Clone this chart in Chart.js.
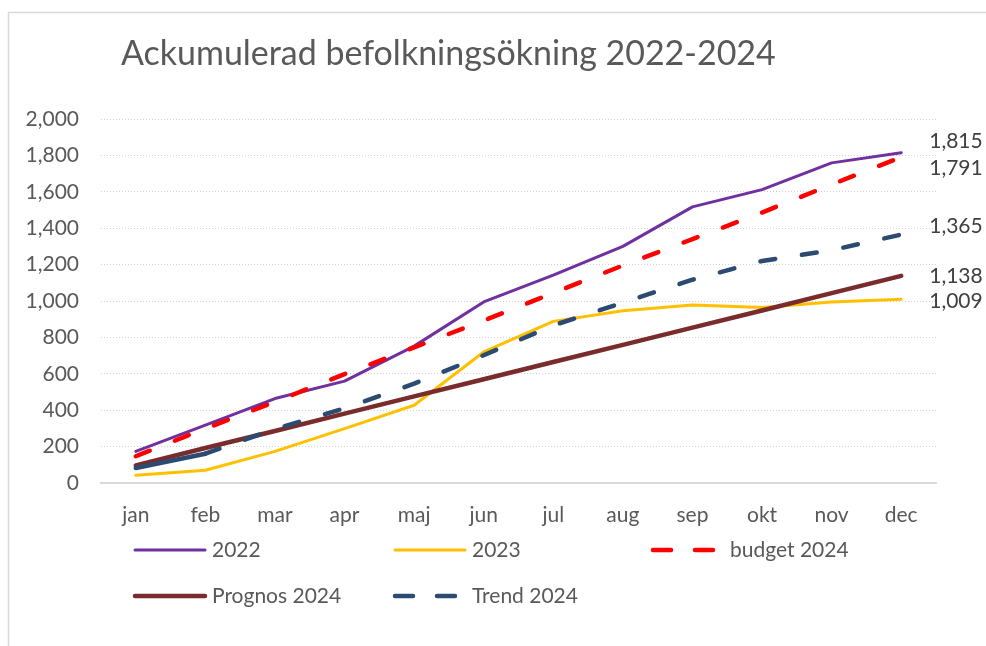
<!DOCTYPE html>
<html><head><meta charset="utf-8">
<script src="https://cdn.jsdelivr.net/npm/chart.js@4"></script>
<style>html,body{margin:0;padding:0;background:#fff}#wrap{position:absolute;left:0;top:0;width:986px;height:646px}</style>
</head><body><div id="wrap"><canvas id="c" width="986" height="646"></canvas></div>
<script>
// ---- data ----
const months = ['jan','feb','mar','apr','maj','jun','jul','aug','sep','okt','nov','dec'];
const values2022 = [174, 318, 464, 560, 752, 995, 1142, 1300, 1517, 1612, 1759, 1815];
const values2023 = [42, 70, 174, 299, 427, 720, 888, 947, 978, 964, 995, 1009];
const budget2024 = [147, 299, 446, 598, 745, 893, 1044, 1195, 1340, 1486, 1640, 1791];
const prognos2024 = [97, 192, 286, 381, 476, 570, 665, 759, 854, 948, 1043, 1138];
const trend2024 = [82, 161, 297, 410, 546, 702, 866, 991, 1117, 1220, 1279, 1365];
const seriesNames = ['2022', '2023', 'budget 2024', 'Prognos 2024', 'Trend 2024'];
const titleText = 'Ackumulerad befolkningsökning 2022-2024';
const yMin = 0, yMax = 2000, yStep = 200;

// ---- styles ----
const FONT = 'Lato, "Open Sans", sans-serif';
const FSIZE = 21;
const AXIS_COLOR = '#595959';
const colors = ['#7030A0', '#FFC000', '#FF0000', '#7A2B2B', '#2C4B72'];
const widths = [3, 3, 4.5, 4.5, 4.5];
const dashes = [[], [], [15, 27], [], [15, 27]];
const endLabelNudge = [-11, 2, 11, 0, -8]; // vertical nudges of end labels (px)

const seriesValues = [values2022, values2023, budget2024, prognos2024, trend2024];

const datasets = seriesValues.map((vals, i) => {
  const ds = {
    label: seriesNames[i],
    data: vals,
    borderColor: colors[i],
    backgroundColor: colors[i],
    borderWidth: widths[i],
    borderDash: dashes[i],
    borderCapStyle: 'round',
    borderJoinStyle: 'round',
    pointRadius: 0,
    tension: 0,
    fill: false,
    order: seriesValues.length - i
  };
  if (i === 4) {
    // first stretch of the trend line is drawn as one continuous dash in the reference
    ds.segment = { borderDash: ctx => ctx.p0DataIndex === 0 ? [] : undefined };
  }
  return ds;
});

const framePlugin = {
  id: 'frame',
  beforeDraw(chart) {
    const ctx = chart.ctx;
    ctx.save();
    ctx.fillStyle = '#fff';
    ctx.fillRect(0, 0, chart.width, chart.height);
    ctx.strokeStyle = '#d9d9d9';
    ctx.lineWidth = 1.5;
    ctx.beginPath();
    ctx.moveTo(8.5, chart.height);
    ctx.lineTo(8.5, 12.5);
    ctx.lineTo(chart.width, 12.5);
    ctx.stroke();
    // title
    ctx.fillStyle = AXIS_COLOR;
    let size = 30;
    ctx.font = size + 'px ' + FONT;
    const w = ctx.measureText(titleText).width;
    size = size * 655 / w;
    ctx.font = size + 'px ' + FONT;
    ctx.textBaseline = 'alphabetic';
    ctx.textAlign = 'left';
    ctx.fillText(titleText, 121, 65);
    ctx.restore();
  }
};

const endLabelPlugin = {
  id: 'endLabels',
  afterDatasetsDraw(chart) {
    const ctx = chart.ctx;
    ctx.save();
    ctx.font = FSIZE + 'px ' + FONT;
    ctx.fillStyle = '#404040';
    ctx.textBaseline = 'middle';
    ctx.textAlign = 'left';
    chart.data.datasets.forEach((ds, i) => {
      const meta = chart.getDatasetMeta(i);
      const last = meta.data[meta.data.length - 1];
      const v = ds.data[ds.data.length - 1];
      ctx.fillText(v.toLocaleString('en-US'), last.x + 28, last.y + endLabelNudge[i]);
    });
    ctx.restore();
  }
};

const legendPlugin = {
  id: 'gridLegend',
  afterDraw(chart) {
    const ctx = chart.ctx;
    const slots = [[133, 550], [393, 550], [651, 550], [133, 596], [393, 596]];
    const lineLen = 72;
    chart.data.datasets.forEach((ds, i) => {
      const [x, y] = slots[i];
      ctx.save();
      ctx.strokeStyle = ds.borderColor;
      ctx.lineWidth = ds.borderWidth;
      ctx.lineCap = 'round';
      ctx.setLineDash(ds.borderDash.length ? [18, 24] : []);
      ctx.beginPath();
      ctx.moveTo(x + 2, y);
      ctx.lineTo(x + lineLen - (ds.borderDash.length ? 5 : 0), y);
      ctx.stroke();
      ctx.setLineDash([]);
      ctx.fillStyle = AXIS_COLOR;
      ctx.font = FSIZE + 'px ' + FONT;
      ctx.textBaseline = 'middle';
      ctx.textAlign = 'left';
      ctx.fillText(ds.label, x + lineLen + 7, y);
      ctx.restore();
    });
  }
};

new Chart(document.getElementById('c'), {
  type: 'line',
  data: { labels: months, datasets },
  options: {
    responsive: false,
    animation: false,
    devicePixelRatio: 1,
    layout: { padding: { top: 119, right: 50, bottom: 0, left: 0 } },
    plugins: { legend: { display: false }, title: { display: false }, tooltip: { enabled: false } },
    scales: {
      x: {
        offset: true,
        grid: { display: false, drawTicks: false },
        border: { display: true, color: '#d9d9d9', width: 2 },
        ticks: { color: AXIS_COLOR, font: { family: FONT, size: FSIZE }, padding: 20, maxRotation: 0, autoSkip: false },
        afterFit(s) { s.height = 163; }
      },
      y: {
        min: yMin, max: yMax,
        ticks: { stepSize: yStep, color: AXIS_COLOR, font: { family: FONT, size: FSIZE }, padding: 22,
                 callback: v => v.toLocaleString('en-US') },
        grid: { color: '#d0d0d0', lineWidth: 1, drawTicks: false },
        border: { display: false, dash: [1, 2] },
        afterFit(s) { s.width = 101; }
      }
    }
  },
  plugins: [framePlugin, endLabelPlugin, legendPlugin]
});
</script>
</body></html>
